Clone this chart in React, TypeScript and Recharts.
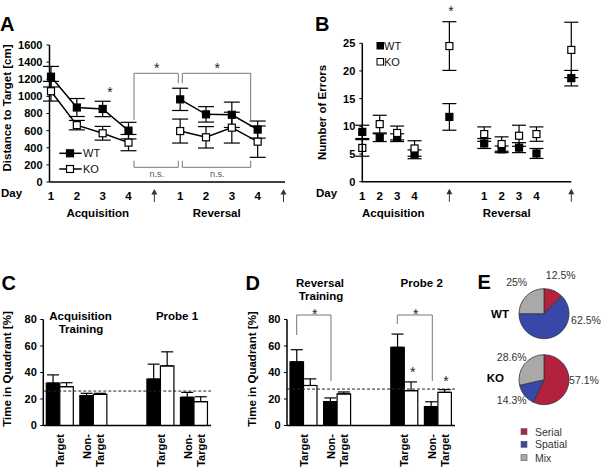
import React from 'react';
import { LineChart, Line, XAxis, YAxis, ErrorBar, BarChart, Bar, ReferenceLine, PieChart, Pie, Cell } from 'recharts';

const FONT = '"Liberation Sans", Arial, Helvetica, sans-serif';

// Panel A: distance to target
const distDays = ['1', '2', '3', '4', '↑', '1', '2', '3', '4', '↑'];
const distWT = [1230, 870, 853, 600, null, 965, 790, 785, 612, null];
const distWTErr = [120, 105, 90, 97, null, 130, 90, 148, 100, null];
const distKO = [1060, 664, 569, 460, null, 595, 522, 635, 471, null];
const distKOErr = [115, 55, 80, 95, null, 140, 125, 180, 183, null];
const distTicks = [0, 200, 400, 600, 800, 1000, 1200, 1400, 1600];

// Panel B: number of errors
const errDays = ['1', '2', '3', '4', '', '↑', '', '1', '2', '3', '4', '', '↑'];
const errWT = [9.0, 7.95, 7.95, 4.95, null, 11.7, null, 6.9, 5.85, 6.15, 5.1, null, 18.7];
const errWTErr = [1.2, 0.7, 0.7, 0.8, null, 2.4, null, 0.9, 0.6, 0.9, 0.9, null, 1.4];
const errKO = [6.1, 10.4, 8.8, 6.0, null, 24.5, null, 8.6, 6.8, 8.3, 8.6, null, 23.8];
const errKOErr = [1.5, 1.6, 1.25, 1.4, null, 4.4, null, 1.3, 1.3, 1.9, 1.3, null, 5.0];
const errTicks = [0, 5, 10, 15, 20, 25];

// Panels C and D: time in quadrant
const quadCats = ['Target', 'Non-Target', '', 'Target', 'Non-Target'];
const quadTicks = [0, 20, 40, 60, 80];
const cWT = [32, 22.5, null, 35, 21.3];
const cWTErr = [6.2, 1.8, null, 11.3, 3.7];
const cKO = [29.3, 23.5, null, 45, 18];
const cKOErr = [3, 0.8, null, 10.6, 3.7];
const cChance = 26;
const dWT = [48, 18, null, 59, 14.3];
const dWTErr = [9.2, 2.8, null, 10, 3.6];
const dKO = [30.2, 23.8, null, 26.3, 25];
const dKOErr = [5, 1.5, null, 6.6, 2.1];
const dChance = 27.5;

// Panel E: strategies
const strategyNames = ['Serial', 'Spatial', 'Mix'];
const strategyColors = ['#B3213E', '#3748A8', '#A9A9A9'];
const wtStrategy = [12.5, 62.5, 25];
const koStrategy = [57.1, 14.3, 28.6];

const distData = distDays.map((d, i) => ({
  day: d, wt: distWT[i], wtErr: distWTErr[i], ko: distKO[i], koErr: distKOErr[i],
}));
const errData = errDays.map((d, i) => ({
  day: d, wt: errWT[i], wtErr: errWTErr[i], ko: errKO[i], koErr: errKOErr[i],
}));
const up = (e: number | null) => (e == null ? null : [0, e]);
const cData = quadCats.map((c, i) => ({ name: c, wt: cWT[i], wtErr: up(cWTErr[i]), ko: cKO[i], koErr: up(cKOErr[i]) }));
const dData = quadCats.map((c, i) => ({ name: c, wt: dWT[i], wtErr: up(dWTErr[i]), ko: dKO[i], koErr: up(dKOErr[i]) }));
const wtPie = strategyNames.map((n, i) => ({ name: n, value: wtStrategy[i] }));
const koPie = strategyNames.map((n, i) => ({ name: n, value: koStrategy[i] }));

const makeSquare = (fill: string) => (props: any) => {
  const { cx, cy, index } = props;
  if (cx == null || cy == null || props.value == null) return <g key={`s${index}`} />;
  return <rect key={`s${index}`} x={cx - 3.5} y={cy - 3.5} width={7} height={7} fill={fill} stroke="#000" strokeWidth={1.2} />;
};
const wtSquare = makeSquare('#000');
const koSquare = makeSquare('#fff');

const DayTick = (props: any) => {
  const { x, y, payload } = props;
  const v = payload?.value;
  if (!v) return <g />;
  if (v === '↑') {
    return (
      <g>
        <line x1={x} x2={x} y1={y + 1} y2={y + 10} stroke="#333" strokeWidth={1} />
        <path d={`M${x - 3},${y + 2.5} L${x + 3},${y + 2.5} L${x},${y - 3} Z`} fill="#333" />
      </g>
    );
  }
  return (
    <text x={x} y={y} dy="0.71em" textAnchor="middle" fontSize={11.5} fontWeight="bold" fill="#000">{v}</text>
  );
};

const QuadTick = (props: any) => {
  const { x, y, payload } = props;
  const v: string = payload?.value;
  if (!v) return <g />;
  const k = v.indexOf('-');
  const lines = k >= 0 ? [v.slice(0, k + 1), v.slice(k + 1)] : [v];
  const shift = (lines.length - 1) * 6.5;
  return (
    <text transform={`rotate(-90, ${x}, ${y})`} x={x} y={y} textAnchor="end" fontSize={11} fontWeight="bold" fill="#000">
      {lines.map((l, i) => (
        <tspan key={i} x={x} dy={i === 0 ? 3.9 - shift : 13}>{l}</tspan>
      ))}
    </text>
  );
};

const yTick = { fill: '#000', fontSize: 11, fontWeight: 'bold' as const };

const T = ({ x, y, s = 11.5, w = 'bold', a = 'middle', c = '#000', r = false, children }: any) => (
  <text x={x} y={y} fontSize={s} fontWeight={w} textAnchor={a} dominantBaseline="central" fill={c}
    transform={r ? `rotate(-90 ${x} ${y})` : undefined}>{children}</text>
);
const Letter = ({ x, y, children }: any) => (
  <text x={x} y={y} fontSize={20} fontWeight="bold" fill="#000">{children}</text>
);
const Star = ({ x, y }: any) => (
  <text x={x} y={y + 8} fontSize={14} textAnchor="middle" fill="#222">*</text>
);
const NS = ({ x, y }: any) => <T x={x} y={y} s={9} w="normal" c="#555">n.s.</T>;

const bracket = '#777';

export default function App() {
  return (
    <div style={{ position: 'absolute', left: 0, top: 0, width: 602, height: 471, background: '#fff', fontFamily: FONT, overflow: 'hidden' }}>
      {/* Panel A */}
      <div style={{ position: 'absolute', left: 0, top: 0 }}>
        <LineChart width={300} height={230} data={distData} margin={{ top: 45, right: 15, bottom: 18, left: 9.5 }}>
          <XAxis dataKey="day" interval={0} tick={<DayTick />} tickLine={false} tickSize={6} tickMargin={4}
            height={30} padding={{ left: 1.5, right: 1.5 }} axisLine={{ stroke: '#000', strokeWidth: 1.5 }} />
          <YAxis domain={[0, 1600]} ticks={distTicks} interval={0} width={40} tick={yTick} tickSize={3} tickMargin={4}
            axisLine={{ stroke: '#000', strokeWidth: 1.5 }} tickLine={{ stroke: '#000' }} />
          <Line dataKey="wt" stroke="#000" strokeWidth={1.5} dot={wtSquare} isAnimationActive={false} connectNulls={false}>
            <ErrorBar dataKey="wtErr" width={8} stroke="#000" strokeWidth={1.2} direction="y" />
          </Line>
          <Line dataKey="ko" stroke="#000" strokeWidth={1.5} dot={koSquare} isAnimationActive={false} connectNulls={false}>
            <ErrorBar dataKey="koErr" width={8} stroke="#000" strokeWidth={1.2} direction="y" />
          </Line>
        </LineChart>
      </div>

      {/* Panel B */}
      <div style={{ position: 'absolute', left: 300, top: 0 }}>
        <LineChart width={302} height={230} data={errData} margin={{ top: 15.6, right: 30.7, bottom: 18.3, left: 22.3 }}>
          <XAxis dataKey="day" interval={0} tick={<DayTick />} tickLine={false} tickSize={6} tickMargin={4}
            height={30} axisLine={{ stroke: '#000', strokeWidth: 1.5 }} />
          <YAxis domain={[0, 30]} ticks={errTicks} interval={0} width={40} tick={yTick} tickSize={3} tickMargin={4}
            axisLine={false} tickLine={{ stroke: '#000' }} />
          <Line dataKey="wt" stroke="none" dot={wtSquare} isAnimationActive={false}>
            <ErrorBar dataKey="wtErr" width={7} stroke="#000" strokeWidth={1.2} direction="y" />
          </Line>
          <Line dataKey="ko" stroke="none" dot={koSquare} isAnimationActive={false}>
            <ErrorBar dataKey="koErr" width={7} stroke="#000" strokeWidth={1.2} direction="y" />
          </Line>
        </LineChart>
      </div>

      {/* Panel C */}
      <div style={{ position: 'absolute', left: 0, top: 230 }}>
        <BarChart width={240} height={241} data={cData} barGap={0} margin={{ top: 89.5, right: 29, bottom: 5.5, left: 3.3 }}>
          <XAxis dataKey="name" interval={0} tick={<QuadTick />} tickLine={false} tickSize={6} tickMargin={2.5}
            height={40} axisLine={{ stroke: '#000', strokeWidth: 1.5 }} />
          <YAxis domain={[0, 80]} ticks={quadTicks} interval={0} width={40} tick={yTick} tickSize={3} tickMargin={3.5}
            axisLine={{ stroke: '#000', strokeWidth: 1.5 }} tickLine={{ stroke: '#000' }} />
          <Bar dataKey="wt" fill="#000" stroke="#000" strokeWidth={1.2} barSize={13.5} isAnimationActive={false}>
            <ErrorBar dataKey="wtErr" width={6} stroke="#000" strokeWidth={1.2} direction="y" />
          </Bar>
          <Bar dataKey="ko" fill="#fff" stroke="#000" strokeWidth={1.2} barSize={13.5} isAnimationActive={false}>
            <ErrorBar dataKey="koErr" width={6} stroke="#000" strokeWidth={1.2} direction="y" />
          </Bar>
          <ReferenceLine y={cChance} stroke="#222" strokeDasharray="3 2" strokeWidth={1} />
        </BarChart>
      </div>

      {/* Panel D */}
      <div style={{ position: 'absolute', left: 245, top: 230 }}>
        <BarChart width={230} height={241} data={dData} barGap={0} margin={{ top: 89.5, right: 20, bottom: 5.5, left: 2 }}>
          <XAxis dataKey="name" interval={0} tick={<QuadTick />} tickLine={false} tickSize={6} tickMargin={2.5}
            height={40} axisLine={{ stroke: '#000', strokeWidth: 1.5 }} />
          <YAxis domain={[0, 80]} ticks={quadTicks} interval={0} width={40} tick={yTick} tickSize={3} tickMargin={3.5}
            axisLine={{ stroke: '#000', strokeWidth: 1.5 }} tickLine={{ stroke: '#000' }} />
          <Bar dataKey="wt" fill="#000" stroke="#000" strokeWidth={1.2} barSize={13.5} isAnimationActive={false}>
            <ErrorBar dataKey="wtErr" width={6} stroke="#000" strokeWidth={1.2} direction="y" />
          </Bar>
          <Bar dataKey="ko" fill="#fff" stroke="#000" strokeWidth={1.2} barSize={13.5} isAnimationActive={false}>
            <ErrorBar dataKey="koErr" width={6} stroke="#000" strokeWidth={1.2} direction="y" />
          </Bar>
          <ReferenceLine y={dChance} stroke="#222" strokeDasharray="3 2" strokeWidth={1} />
        </BarChart>
      </div>

      {/* Panel E */}
      <div style={{ position: 'absolute', left: 494, top: 262 }}>
        <PieChart width={100} height={150} margin={{ top: 0, right: 0, bottom: 0, left: 0 }}>
          <Pie data={wtPie} dataKey="value" nameKey="name" cx={50} cy={51.7} outerRadius={25} startAngle={90} endAngle={-270}
            stroke="#333" strokeWidth={0.8} isAnimationActive={false}>
            {wtPie.map((d, i) => <Cell key={d.name} fill={strategyColors[i]} />)}
          </Pie>
          <Pie data={koPie} dataKey="value" nameKey="name" cx={50} cy={117.7} outerRadius={25} startAngle={90} endAngle={-270}
            stroke="#333" strokeWidth={0.8} isAnimationActive={false}>
            {koPie.map((d, i) => <Cell key={d.name} fill={strategyColors[i]} />)}
          </Pie>
        </PieChart>
      </div>

      {/* Annotations */}
      <svg width={602} height={471} style={{ position: 'absolute', left: 0, top: 0, pointerEvents: 'none', fontFamily: FONT }}>
        {/* Panel A */}
        <Letter x={0} y={30.7}>A</Letter>
        <T x={7.3} y={108} r>Distance to Target [cm]</T>
        <T x={1} y={193.3} a="start">Day</T>
        <T x={97.7} y={213.3}>Acquisition</T>
        <T x={216.7} y={213.3}>Reversal</T>
        <path d="M134,120 V73.3 H178.3 V83.3" fill="none" stroke={bracket} strokeWidth={1} />
        <path d="M182.3,83.3 V73.3 H250.7 V120" fill="none" stroke={bracket} strokeWidth={1} />
        <path d="M134,160.7 V167.3 H178.3 V160.7" fill="none" stroke={bracket} strokeWidth={1} />
        <path d="M182.3,160.7 V167.3 H250.7 V160.7" fill="none" stroke={bracket} strokeWidth={1} />
        <Star x={156.7} y={65} />
        <Star x={217.3} y={65} />
        <Star x={110} y={89.3} />
        <NS x={156.7} y={174} />
        <NS x={217.3} y={174} />
        <line x1={59.3} x2={81.7} y1={153.3} y2={153.3} stroke="#000" strokeWidth={1.5} />
        <rect x={66.5} y={149.8} width={7} height={7} fill="#000" stroke="#000" strokeWidth={1.2} />
        <T x={83} y={153.3} a="start" s={11} w="normal" c="#111">WT</T>
        <line x1={59.3} x2={81.7} y1={169} y2={169} stroke="#000" strokeWidth={1.5} />
        <rect x={66.5} y={165.5} width={7} height={7} fill="#fff" stroke="#000" strokeWidth={1.2} />
        <T x={83} y={169} a="start" s={11} w="normal" c="#111">KO</T>

        {/* Panel B */}
        <Letter x={315} y={30.7}>B</Letter>
        <line x1={362.3} x2={362.3} y1={43.3} y2={182.4} stroke="#000" strokeWidth={1.5} />
        <T x={321.7} y={112.5} r>Number of Errors</T>
        <T x={316} y={193.3} a="start">Day</T>
        <T x={393.3} y={213.3}>Acquisition</T>
        <T x={506.7} y={213.3}>Reversal</T>
        <Star x={451} y={8.3} />
        <rect x={377} y={42.5} width={6.5} height={6.5} fill="#000" stroke="#000" strokeWidth={1} />
        <T x={384} y={45.7} a="start" s={11} w="normal" c="#111">WT</T>
        <rect x={377} y={58.5} width={6.5} height={6.5} fill="#fff" stroke="#000" strokeWidth={1} />
        <T x={384} y={61.7} a="start" s={11} w="normal" c="#111">KO</T>

        {/* Panel C */}
        <Letter x={1.5} y={290}>C</Letter>
        <T x={7.3} y={369} r>Time in Quadrant [%]</T>
        <T x={80.5} y={316}>Acquisition</T>
        <T x={81} y={329.3}>Training</T>
        <T x={177} y={316}>Probe 1</T>

        {/* Panel D */}
        <Letter x={245.5} y={290}>D</Letter>
        <T x={252.3} y={369} r>Time in Quadrant [%]</T>
        <T x={320} y={283.3}>Reversal</T>
        <T x={321} y={296}>Training</T>
        <T x={421.7} y={283.3}>Probe 2</T>
        <path d="M296.7,335 V315 H331 V381" fill="none" stroke={bracket} strokeWidth={1} />
        <path d="M397.3,324 V315 H432.3 V381" fill="none" stroke={bracket} strokeWidth={1} />
        <Star x={314.7} y={311} />
        <Star x={415.7} y={311} />
        <Star x={412.7} y={369.3} />
        <Star x={446} y={377.7} />

        {/* Panel E */}
        <Letter x={477.5} y={289.3}>E</Letter>
        <T x={500} y={314.3}>WT</T>
        <T x={495.3} y={378.3}>KO</T>
        <T x={560.7} y={275} s={10.5} w="normal" c="#333">12.5%</T>
        <T x={516.7} y={281.7} s={10.5} w="normal" c="#333">25%</T>
        <T x={586} y={320} s={10.5} w="normal" c="#333">62.5%</T>
        <T x={511.7} y={356.7} s={10.5} w="normal" c="#333">28.6%</T>
        <T x={584} y={380} s={10.5} w="normal" c="#333">57.1%</T>
        <T x={511.7} y={400} s={10.5} w="normal" c="#333">14.3%</T>
        {strategyNames.map((n, i) => (
          <g key={n}>
            <rect x={521} y={[428.7, 441.3, 454.7][i]} width={6} height={6} fill={strategyColors[i]} stroke="#555" strokeWidth={0.6} />
            <T x={535} y={[431.7, 444.3, 457.7][i]} a="start" s={10.5} w="normal" c="#333">{n}</T>
          </g>
        ))}
      </svg>
    </div>
  );
}
